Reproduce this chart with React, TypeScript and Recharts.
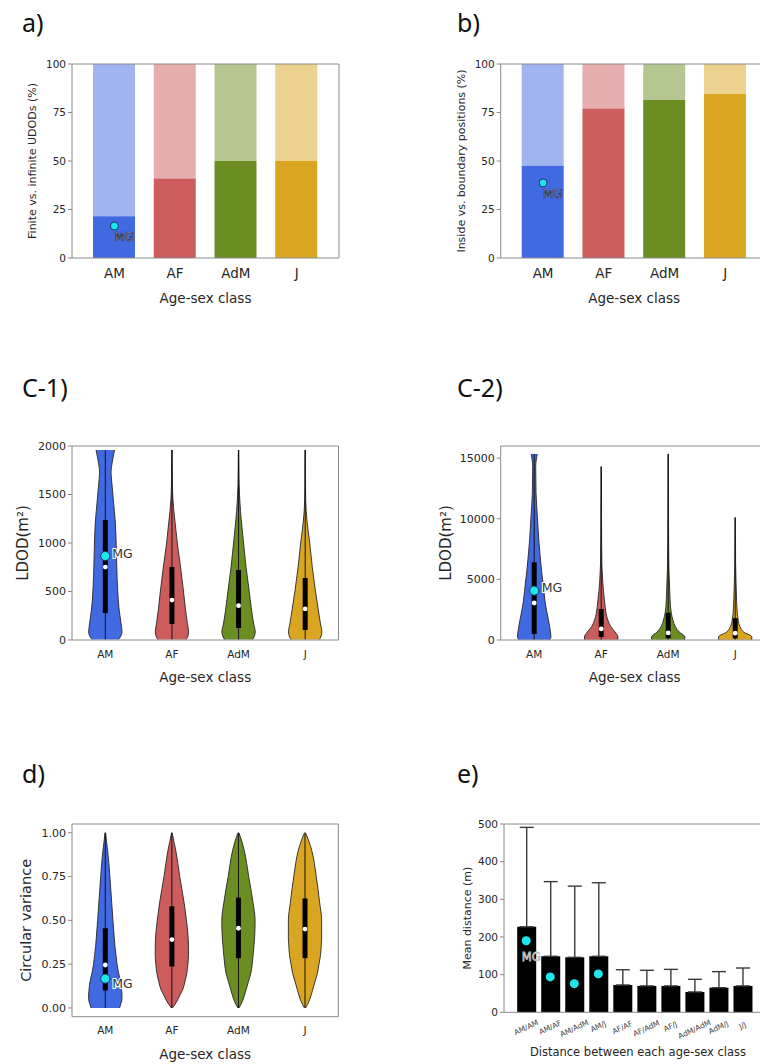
import React from 'react';
import {
  ComposedChart,
  Bar,
  Cell,
  XAxis,
  YAxis,
  Line,
  Area,
  ReferenceLine,
  ReferenceDot,
  ErrorBar,
  Label,
} from 'recharts';

const FONT = 'DejaVu Sans, sans-serif';
const TITLE_FONT = 'Noto Sans, sans-serif';
const TXT = '#262626';
const FRAME = '#8a8a8a';
const CYAN = '#1ee6ee';

// ---------- shared categories ----------
const classes = ['AM', 'AF', 'AdM', 'J'];
const classColors = ['#4169E1', '#CD5C5C', '#6B8E23', '#DAA520'];

// ---------- a) finite vs infinite UDODs (%) ----------
const finitePct = [21.5, 41, 50, 50];
const mgFinitePct = 16.5;
// ---------- b) inside vs boundary positions (%) ----------
const insidePct = [47.5, 77, 81.5, 84.5];
const mgInsidePct = 38.7;
const pctTicks = [0, 25, 50, 75, 100];

// ---------- C-1) LDOD, zoomed to 0-2000 ----------
const ldodLevels1 = [5, 31, 83, 175, 309, 515, 753, 1000, 1206, 1443, 1600, 1722, 1856, 1959];
const ldodDensity1 = [
  [13, 15, 16.6, 15.6, 13.8, 12.3, 11.4, 10.8, 10, 8, 6.7, 5.7, 7.3, 9.2],
  [14, 15.5, 16.5, 15.2, 13.5, 11.3, 8.5, 5.3, 3.2, 1, 0.5, 0.35, 0.25, 0.2],
  [14, 15.5, 16.7, 15, 13, 10.5, 7.5, 5, 3, 1.2, 0.6, 0.4, 0.3, 0.2],
  [14, 15.5, 16.5, 15, 13, 10, 7, 4.5, 2, 0.5, 0.35, 0.3, 0.25, 0.2],
];
const ldod1Min = [5, 5, 5, 5];
const ldod1Max = [1959, 1959, 1959, 1959];
const ldod1Q1 = [278, 165, 124, 103];
const ldod1Med = [752, 412, 354, 320];
const ldod1Q3 = [1237, 753, 722, 639];
const mgLdod1 = 866;
const ldod1Ticks = [0, 500, 1000, 1500, 2000];

// ---------- C-2) LDOD, full range ----------
const ldodLevels2 = [20, 250, 660, 1100, 1650, 2750, 3300, 4700, 5530, 6350, 8250, 10100, 12130, 14300, 15347];
const ldodDensity2 = [
  [15, 16.5, 16, 15.2, 14, 11.5, 10.5, 8.7, 7.5, 6.5, 4.5, 3.2, 1.8, 1.5, 3],
  [15.5, 15.7, 13, 9, 6.2, 3.7, 3, 1.5, 1, 0.6, 0.4, 0.3, 0.2, 0.1, null],
  [15.5, 16, 10.5, 6.8, 4.5, 2.2, 1.8, 1.2, 0.8, 0.6, 0.4, 0.3, 0.2, 0.15, 0.1],
  [15.5, 15.8, 8, 4.5, 2.8, 1.6, 1.3, 0.8, 0.6, 0.4, 0.3, 0.1, null, null, null],
];
const ldod2Min = [20, 20, 20, 20];
const ldod2Max = [15347, 14300, 15347, 10100];
const ldod2Q1 = [500, 250, 150, 130];
const ldod2Med = [3050, 910, 580, 560];
const ldod2Q3 = [6410, 2560, 2250, 1800];
const mgLdod2 = 4070;
const ldod2Ticks = [0, 5000, 10000, 15000];

// ---------- d) circular variance ----------
const cvLevels = [0, 0.02, 0.05, 0.08, 0.1, 0.15, 0.2, 0.25, 0.3, 0.35, 0.4, 0.5, 0.6, 0.75, 0.9, 0.95, 1.0];
const cvDensity = [
  [14, 15, 16.3, 16.3, 16, 15, 13, 11.5, 10.5, 9.5, 8.8, 7.5, 6.3, 4.5, 2.3, 1.2, 0.3],
  [0.5, 3, 6, 8.5, 10.3, 12.8, 14.7, 15.7, 16.3, 16.3, 16, 14.3, 12, 7.7, 3.8, 2, 0.3],
  [0.5, 2.5, 4.8, 6.5, 7.5, 10, 12.5, 13.8, 14.7, 15.5, 16.2, 16.7, 14.7, 10.3, 5.8, 3.5, 0.5],
  [0.5, 2.5, 4.8, 6.5, 7.5, 10, 12.5, 14, 15.5, 16.2, 16.7, 16.7, 14.7, 11.3, 6.7, 4, 0.5],
];
const cvMin = [0, 0, 0, 0];
const cvMax = [1, 1, 1, 1];
const cvQ1 = [0.1, 0.237, 0.284, 0.284];
const cvMed = [0.245, 0.39, 0.455, 0.45];
const cvQ3 = [0.455, 0.58, 0.63, 0.625];
const mgCv = 0.167;
const cvTicks = [0, 0.25, 0.5, 0.75, 1];

// ---------- e) mean distance between classes ----------
const pairs = ['AM/AM', 'AM/AF', 'AM/AdM', 'AM/J', 'AF/AF', 'AF/AdM', 'AF/J', 'AdM/AdM', 'AdM/J', 'J/J'];
const meanDist = [227, 148.7, 146, 148.7, 72.5, 70, 70, 54, 65.4, 70];
const upperDist = [491, 347, 335, 344, 113, 111.5, 114, 87.6, 108, 117.6];
const mgDist = [190, 94, 76, 102, null, null, null, null, null, null];
const distTicks = [0, 100, 200, 300, 400, 500];

// ---------- layout helpers ----------
const YW = 40; // left y-axis width
const XH = 20; // bottom x-axis height
const FW = 2; // frame axes thickness

function plotMargin(W: number, H: number, L: number, T: number, R: number, B: number) {
  return { left: L - YW, top: T - FW, right: W - R - FW, bottom: H - B - XH };
}

function xTitle(text: string, cx: number, baseline: number, fs: number) {
  return (
    <Label
      content={() => (
        <text x={cx} y={baseline} textAnchor="middle" fontSize={fs} fill={TXT} fontFamily={FONT}>
          {text}
        </text>
      )}
    />
  );
}

function yTitle(text: string, x: number, cy: number, fs: number) {
  return (
    <Label
      content={() => (
        <text
          x={x}
          y={cy}
          transform={`rotate(-90 ${x} ${cy})`}
          textAnchor="middle"
          fontSize={fs}
          fill={TXT}
          fontFamily={FONT}
        >
          {text}
        </text>
      )}
    />
  );
}

const yTickStyle = { fontSize: 10.5, fill: TXT, fontFamily: FONT };

// ---------- stacked percentage bar panel ----------
function PctPanel(props: {
  W: number;
  H: number;
  plot: [number, number, number, number];
  pct: number[];
  mg: number;
  title: string;
  titleX: number;
}) {
  const { W, H, plot, pct, mg, title, titleX } = props;
  const [L, T, R, B] = plot;
  const rows = classes.map((c, i) => ({
    cls: c,
    part: pct[i],
    rest: 100 - pct[i],
    mg: i === 0 ? mg : null,
  }));
  const mgDot = (p: any) => {
    const { cx, cy, value, index } = p;
    if (value == null || cx == null || cy == null) return <g key={`mg-${index}`} />;
    return (
      <g key={`mg-${index}`}>
        <circle cx={cx} cy={cy} r={4} fill={CYAN} stroke="#1d3557" strokeWidth={1} />
        <text
          x={cx}
          y={cy + 15}
          fontSize={12}
          fontFamily={FONT}
          fill="#c9d2f2"
          stroke="#2a2a3a"
          strokeWidth={0.7}
        >
          MG
        </text>
      </g>
    );
  };
  return (
    <ComposedChart width={W} height={H} data={rows} margin={plotMargin(W, H, L, T, R, B)}>
      <XAxis
        dataKey="cls"
        height={XH}
        padding={{ left: 12, right: 12 }}
        interval={0}
        tickLine={false}
        tickSize={0}
        tickMargin={10}
        tick={{ fontSize: 13.5, fill: TXT, fontFamily: FONT }}
        axisLine={{ stroke: FRAME }}
      >
        {xTitle('Age-sex class', (L + R) / 2, 303, 13.5)}
      </XAxis>
      <YAxis
        width={YW}
        domain={[0, 100]}
        ticks={pctTicks}
        interval={0}
        tickSize={4}
        tickMargin={2}
        tick={yTickStyle}
        tickLine={{ stroke: FRAME }}
        axisLine={{ stroke: FRAME }}
      >
        {yTitle(title, titleX, (T + B) / 2, 11)}
      </YAxis>
      <XAxis xAxisId="top" orientation="top" dataKey="cls" height={FW} tick={false} tickLine={false} axisLine={{ stroke: FRAME }} />
      <YAxis yAxisId="right" orientation="right" width={FW} domain={[0, 100]} tick={false} tickLine={false} axisLine={{ stroke: FRAME }} />
      <Bar dataKey="part" stackId="s" barSize={42} isAnimationActive={false}>
        {classes.map((c, i) => (
          <Cell key={c} fill={classColors[i]} />
        ))}
      </Bar>
      <Bar dataKey="rest" stackId="s" barSize={42} fillOpacity={0.5} isAnimationActive={false}>
        {classes.map((c, i) => (
          <Cell key={c} fill={classColors[i]} />
        ))}
      </Bar>
      <Line dataKey="mg" stroke="none" dot={mgDot} activeDot={false} isAnimationActive={false} legendType="none" />
    </ComposedChart>
  );
}

// ---------- violin panel ----------
const HALF = 0.25;

function ViolinPanel(props: {
  W: number;
  H: number;
  plot: [number, number, number, number];
  levels: number[];
  density: (number | null)[][];
  vmin: number[];
  vmax: number[];
  q1: number[];
  med: number[];
  q3: number[];
  mg: number;
  mgOffset: [number, number];
  yDomain: [number, number];
  yTicks: number[];
  yFmt: (v: number) => string;
  title: string;
  titleX: number;
  titleFs: number;
  xTitleBase: number;
  xTickMargin: number;
}) {
  const p = props;
  const [L, T, R, B] = p.plot;
  const rows = p.levels.map((y, k) => {
    const r: any = { y };
    classes.forEach((c, i) => {
      const arr = p.density[i];
      const mx = Math.max(...(arr.filter((v) => v != null) as number[]));
      const d = arr[k];
      r[c] = d == null ? [null, null] : [i - (d / mx) * HALF, i + (d / mx) * HALF];
    });
    return r;
  });
  const mgShape = (s: any) => (
    <g>
      <circle cx={s.cx} cy={s.cy} r={4.6} fill={CYAN} stroke="#1d3557" strokeWidth={1} />
      <text
        x={s.cx + p.mgOffset[0]}
        y={s.cy + p.mgOffset[1]}
        fontSize={12.5}
        fontFamily={FONT}
        fill="#333"
        stroke="#ffffff"
        strokeWidth={2.2}
        paintOrder="stroke"
      >
        MG
      </text>
    </g>
  );
  return (
    <ComposedChart layout="vertical" width={p.W} height={p.H} data={rows} margin={plotMargin(p.W, p.H, L, T, R, B)}>
      <XAxis
        type="number"
        height={XH}
        domain={[-0.5, 3.5]}
        allowDataOverflow
        ticks={[0, 1, 2, 3]}
        interval={0}
        tickFormatter={(v: number) => classes[v] ?? ''}
        tickLine={false}
        tickSize={0}
        tickMargin={p.xTickMargin}
        tick={{ fontSize: 10.5, fill: TXT, fontFamily: FONT }}
        axisLine={{ stroke: FRAME }}
      >
        {xTitle('Age-sex class', (L + R) / 2, p.xTitleBase, 13.5)}
      </XAxis>
      <YAxis
        type="number"
        dataKey="y"
        width={YW}
        domain={p.yDomain}
        allowDataOverflow
        reversed
        ticks={p.yTicks}
        interval={0}
        tickFormatter={p.yFmt}
        tickSize={4}
        tickMargin={2}
        tick={{ fontSize: 11, fill: TXT, fontFamily: FONT }}
        tickLine={{ stroke: FRAME }}
        axisLine={{ stroke: FRAME }}
      >
        {yTitle(p.title, p.titleX, (T + B) / 2, p.titleFs)}
      </YAxis>
      <XAxis xAxisId="top" orientation="top" type="number" domain={[-0.5, 3.5]} height={FW} tick={false} tickLine={false} axisLine={{ stroke: FRAME }} />
      <YAxis yAxisId="right" orientation="right" type="number" domain={p.yDomain} width={FW} tick={false} tickLine={false} axisLine={{ stroke: FRAME }} />
      {classes.map((c, i) => (
        <Area
          key={c}
          dataKey={c}
          type="monotone"
          fill={classColors[i]}
          fillOpacity={1}
          stroke="#262626"
          strokeWidth={0.9}
          dot={false}
          activeDot={false}
          connectNulls={false}
          isAnimationActive={false}
          legendType="none"
        />
      ))}
      {classes.map((c, i) => (
        <ReferenceLine
          key={`w-${c}`}
          segment={[
            { x: i, y: p.vmin[i] },
            { x: i, y: p.vmax[i] },
          ]}
          stroke="#141414"
          strokeWidth={1}
        />
      ))}
      {classes.map((c, i) => (
        <ReferenceLine
          key={`b-${c}`}
          segment={[
            { x: i, y: p.q1[i] },
            { x: i, y: p.q3[i] },
          ]}
          stroke="#000"
          strokeWidth={5}
        />
      ))}
      {classes.map((c, i) => (
        <ReferenceDot key={`m-${c}`} x={i} y={p.med[i]} r={2.4} fill="#ffffff" stroke="none" />
      ))}
      <ReferenceDot x={0} y={p.mg} r={4.6} shape={mgShape} />
    </ComposedChart>
  );
}

// ---------- e) panel ----------
function RotTick(props: any) {
  const { x, y, payload } = props;
  const t = String(payload.value);
  const fs = 7.5;
  const ang = (25 * Math.PI) / 180;
  const len = t.length * fs * 0.6;
  const dy = (len * Math.sin(ang) + fs * Math.cos(ang)) / 2;
  const cy = y + 7 + dy;
  return (
    <text
      x={x}
      y={cy}
      transform={`rotate(-25 ${x} ${cy})`}
      textAnchor="middle"
      dominantBaseline="central"
      fontSize={fs}
      fill="#444"
      fontFamily={FONT}
    >
      {t}
    </text>
  );
}

function DistPanel() {
  const W = 420;
  const H = 324;
  const L = 124;
  const T = 84;
  const R = 384.7;
  const B = 272.3;
  const rows = pairs.map((pr, i) => ({
    pair: pr,
    mean: meanDist[i],
    err: [0, upperDist[i] - meanDist[i]],
    mg: mgDist[i],
  }));
  const eDot = (p: any) => {
    const { cx, cy, value, index } = p;
    if (value == null || cx == null || cy == null) return <g key={`e-${index}`} />;
    return (
      <g key={`e-${index}`}>
        <circle cx={cx} cy={cy} r={4.5} fill={CYAN} />
        {index === 0 ? (
          <text
            x={cx - 4.5}
            y={cy + 20}
            fontSize={11.5}
            fontFamily={FONT}
            fill="#5a5a5a"
            stroke="#c8c8c8"
            strokeWidth={0.8}
          >
            MG
          </text>
        ) : null}
      </g>
    );
  };
  return (
    <ComposedChart width={W} height={H} data={rows} margin={plotMargin(W, H, L, T, R, B)}>
      <XAxis
        dataKey="pair"
        height={XH}
        padding={{ left: 10.2, right: 10.2 }}
        interval={0}
        tickLine={false}
        tickSize={0}
        tickMargin={0}
        tick={(tp: any) => <RotTick {...tp} />}
        axisLine={{ stroke: FRAME }}
      >
        {xTitle('Distance between each age-sex class', 258, 316, 11.5)}
      </XAxis>
      <YAxis
        width={YW}
        domain={[0, 500]}
        ticks={distTicks}
        interval={0}
        tickSize={4}
        tickMargin={2}
        tick={yTickStyle}
        tickLine={{ stroke: FRAME }}
        axisLine={{ stroke: FRAME }}
      >
        {yTitle('Mean distance (m)', 91, (T + B) / 2, 11)}
      </YAxis>
      <XAxis xAxisId="top" orientation="top" dataKey="pair" height={FW} tick={false} tickLine={false} axisLine={{ stroke: FRAME }} />
      <YAxis yAxisId="right" orientation="right" width={FW} domain={[0, 500]} tick={false} tickLine={false} axisLine={{ stroke: FRAME }} />
      <Bar dataKey="mean" fill="#000" barSize={19} isAnimationActive={false}>
        <ErrorBar dataKey="err" width={7} stroke="#3a3a3a" strokeWidth={1.4} direction="y" />
      </Bar>
      <Line dataKey="mg" stroke="none" dot={eDot} activeDot={false} isAnimationActive={false} legendType="none" />
    </ComposedChart>
  );
}

const titles = [
  { t: 'a)', x: 22, y: 32 },
  { t: 'b)', x: 457, y: 32 },
  { t: 'C-1)', x: 22, y: 397 },
  { t: 'C-2)', x: 457, y: 397 },
  { t: 'd)', x: 22, y: 783 },
  { t: 'e)', x: 457, y: 783 },
];

const abs = (left: number, top: number): React.CSSProperties => ({ position: 'absolute', left, top });

export default function App() {
  return (
    <div
      style={{
        position: 'absolute',
        left: 0,
        top: 0,
        width: 760,
        height: 1064,
        overflow: 'hidden',
        background: '#ffffff',
      }}
    >
      <svg width={760} height={1064} style={abs(0, 0)}>
        {titles.map((tt) => (
          <text key={tt.t} x={tt.x} y={tt.y} fontSize={25} fontFamily={TITLE_FONT} fill="#111">
            {tt.t}
          </text>
        ))}
      </svg>
      <div style={abs(0, 0)}>
        <PctPanel W={380} H={320} plot={[72, 64, 339, 258]} pct={finitePct} mg={mgFinitePct} title="Finite vs. infinite UDODs (%)" titleX={36} />
      </div>
      <div style={abs(380, 0)}>
        <PctPanel W={420} H={320} plot={[120.7, 64, 387.7, 258]} pct={insidePct} mg={mgInsidePct} title="Inside vs. boundary positions (%)" titleX={85} />
      </div>
      <div style={abs(0, 370)}>
        <ViolinPanel
          W={380}
          H={330}
          plot={[72, 76, 338.5, 270]}
          levels={ldodLevels1}
          density={ldodDensity1}
          vmin={ldod1Min}
          vmax={ldod1Max}
          q1={ldod1Q1}
          med={ldod1Med}
          q3={ldod1Q3}
          mg={mgLdod1}
          mgOffset={[7, 2]}
          yDomain={[0, 2000]}
          yTicks={ldod1Ticks}
          yFmt={(v) => String(v)}
          title="LDOD(m²)"
          titleX={28}
          titleFs={15}
          xTitleBase={312}
          xTickMargin={11}
        />
      </div>
      <div style={abs(380, 370)}>
        <ViolinPanel
          W={420}
          H={330}
          plot={[120.7, 76, 388.7, 270]}
          levels={ldodLevels2}
          density={ldodDensity2}
          vmin={ldod2Min}
          vmax={ldod2Max}
          q1={ldod2Q1}
          med={ldod2Med}
          q3={ldod2Q3}
          mg={mgLdod2}
          mgOffset={[7.5, 1]}
          yDomain={[0, 16000]}
          yTicks={ldod2Ticks}
          yFmt={(v) => String(v)}
          title="LDOD(m²)"
          titleX={71}
          titleFs={15}
          xTitleBase={312}
          xTickMargin={11}
        />
      </div>
      <div style={abs(0, 740)}>
        <ViolinPanel
          W={380}
          H={324}
          plot={[72, 84, 338.3, 276.7]}
          levels={cvLevels}
          density={cvDensity}
          vmin={cvMin}
          vmax={cvMax}
          q1={cvQ1}
          med={cvMed}
          q3={cvQ3}
          mg={mgCv}
          mgOffset={[7, 9]}
          yDomain={[-0.05, 1.05]}
          yTicks={cvTicks}
          yFmt={(v) => v.toFixed(2)}
          title="Circular variance"
          titleX={31}
          titleFs={14.5}
          xTitleBase={319}
          xTickMargin={10}
        />
      </div>
      <div style={abs(380, 740)}>
        <DistPanel />
      </div>
    </div>
  );
}
